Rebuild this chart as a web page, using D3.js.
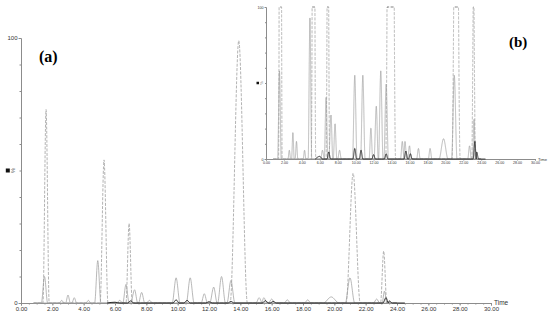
<!DOCTYPE html>
<html>
<head>
<meta charset="utf-8">
<script src="https://cdn.jsdelivr.net/npm/d3@7"></script>
<style>
  body { margin: 0; background: #fff; }
  svg { display: block; }
  .axis path, .axis line { stroke: #8c8c8c; }
  .axis text { fill: #333; font-family: "Liberation Sans", Arial, sans-serif; }
</style>
</head>
<body>
<svg id="chart" width="550" height="316"></svg>
<script>
// traces: [time (min), intensity %]
const dashedTrace = [
  [0.8,0],[1.4,0],[1.6,73],[1.8,0],[5.05,0],[5.3,54],[5.55,0],[6.7,0],[6.9,30],[7.1,0],
  [13.35,0],[13.9,99],[14.45,0],[20.75,0],[21.2,49],[21.65,0],[22.95,0],[23.15,19.6],[23.35,0],[24,0]
];
const solidTraceA = [
  [0.8,0],[1.3,0],[1.5,10],[1.7,0],[2.85,0],[3.0,3],[3.15,0],[3.25,0],[3.4,2],[3.55,0],
  [4.7,0],[4.9,16],[5.1,0],[6.5,0],[6.7,7],[6.9,0],[7.5,0],[7.7,4],[7.9,0],
  [9.65,0],[9.9,9.5],[10.15,0],[10.55,0],[10.8,9.5],[11.05,0],[12.05,0],[12.3,6],[12.52,0],
  [12.55,0],[12.8,10],[13.05,0],[15.0,0],[15.2,2],[15.4,0],[15.8,0],[16.0,1.5],[16.2,0],
  [16.8,0],[17.0,1.2],[17.2,0],[18.1,0],[18.3,1.2],[18.5,0],[19.3,0],[19.8,2.3],[20.3,0],
  [20.7,0],[21.0,9.5],[21.3,0],[23.05,0],[23.2,4.5],[23.35,0],[24,0]
];
const solidTraceB = [
  [0.8,0],[2.45,0],[2.6,1],[2.75,0],[4.15,0],[4.3,1],[4.45,0],[6.1,0],[6.3,1],[6.5,0],
  [7.0,0],[7.25,5],[7.45,0],[8.0,0],[8.2,1],[8.4,0],[11.5,0],[11.7,3.5],[11.9,0],
  [13.15,0],[13.4,8.5],[13.65,0],[15.35,0],[15.5,2],[15.7,0],[22.5,0],[22.7,1.5],[22.9,0],[24,0]
];
const blackTrace = [
  [5.5,0],[6.0,0.3],[6.3,0],[6.8,0],[7.0,0.8],[7.2,0],[9.7,0],[9.9,1.2],[10.1,0],[10.4,0],
  [10.6,1],[10.8,0],[11.8,0],[12.0,0.5],[12.2,0],[13.2,0],[13.4,0.6],[13.6,0],[15.4,0],
  [15.6,0.9],[15.8,0],[15.9,0],[16.1,0.6],[16.3,0],[23.1,0],[23.3,2],[23.45,0],[23.5,0.8],[23.7,0],[24.5,0]
];
const timeTicks = d3.range(0, 31, 2);
const insetGain = 5.8;   // inset (b) is the same run, y magnified

const traces = [
  { data: solidTraceA, color: "#999", dash: null, width: 0.7 },
  { data: solidTraceB, color: "#999", dash: null, width: 0.7 },
  { data: dashedTrace, color: "#999", dash: "3,1.4", width: 0.75 },
  { data: blackTrace, color: "#1a1a1a", dash: null, width: 0.9 }
];

const svg = d3.select("#chart");

function drawPanel(opt) {
  const g = svg.append("g");
  const x = d3.scaleLinear().domain([0, 30]).range([opt.x0, opt.x1]);
  const y = d3.scaleLinear().domain([0, 100]).range([opt.y0, opt.y1]);

  // minor ticks
  g.append("g").attr("class", "axis").attr("transform", `translate(0,${opt.y0})`)
    .call(d3.axisBottom(x).tickValues(d3.range(0, 30.01, 0.5)).tickSize(opt.minor).tickFormat(""))
    .call(a => a.select(".domain").remove());
  g.append("g").attr("class", "axis").attr("transform", `translate(0,${opt.y0})`)
    .call(d3.axisBottom(x).tickValues(timeTicks).tickSize(opt.major).tickPadding(1).tickFormat(d3.format(".2f")))
    .call(a => a.selectAll("text").attr("fill", "#333").style("font-size", opt.font + "px"));
  g.append("g").attr("class", "axis").attr("transform", `translate(${opt.x0},0)`)
    .call(d3.axisLeft(y).tickValues(d3.range(0, 101, 10)).tickSize(opt.minor).tickFormat(""));
  g.append("g").attr("class", "axis").attr("transform", `translate(${opt.x0},0)`)
    .call(d3.axisLeft(y).tickValues([0, 100]).tickSize(opt.major).tickPadding(1))
    .call(a => a.select(".domain").remove())
    .call(a => a.selectAll("text").attr("fill", "#333").style("font-size", opt.font + "px"));

  g.append("text").attr("x", opt.x1 + 3).attr("y", opt.y0 + 1.5)
    .style("font-family", "Liberation Sans, Arial").style("font-size", (opt.font + 0.5) + "px")
    .attr("fill", "#333").text("Time");
  const ym = (opt.y0 + opt.y1) / 2;
  g.append("rect").attr("x", opt.x0 - opt.sq * 3.8).attr("y", ym - opt.sq / 2)
    .attr("width", opt.sq).attr("height", opt.sq).attr("fill", "#111");
  g.append("text").attr("transform", `translate(${opt.x0 - opt.sq * 1.4},${ym}) rotate(-90)`)
    .attr("text-anchor", "middle")
    .style("font-family", "Liberation Sans, Arial").style("font-size", opt.font + "px")
    .attr("fill", "#666").text("%");

  const line = d3.line().x(d => x(d[0])).y(d => y(d[1] * opt.gain)).curve(d3.curveMonotoneX);
  traces.forEach(t => {
    let d = line(t.data);
    if (opt.gain > 1) {
      // flatten the peaks that run off the top, like the instrument plot
      const tmp = g.append("path").attr("d", d);
      const node = tmp.node(), len = node.getTotalLength();
      const pts = [];
      for (let s = 0; s <= len; s += 0.4) {
        const p = node.getPointAtLength(s);
        pts.push([p.x, Math.max(p.y, opt.y1)]);
      }
      tmp.remove();
      d = d3.line()(pts);
    }
    g.append("path").attr("d", d).attr("fill", "none")
      .attr("stroke", t.color).attr("stroke-width", t.width)
      .attr("stroke-dasharray", t.dash);
  });

  g.append("text").attr("x", opt.lx).attr("y", opt.ly)
    .style("font-family", "Liberation Serif, Times New Roman, serif")
    .style("font-weight", "bold").style("font-size", opt.lsize + "px")
    .attr("fill", "#000").text(opt.label);
}

drawPanel({ x0: 21, x1: 491, y0: 303, y1: 38, gain: 1, font: 6, major: 2.5, minor: 1.5, sq: 4,
  label: "(a)", lx: 39, ly: 62, lsize: 16 });
drawPanel({ x0: 266, x1: 535, y0: 159, y1: 7, gain: insetGain, font: 3.6, major: 1.5, minor: 1, sq: 2.5,
  label: "(b)", lx: 509, ly: 47, lsize: 15 });
</script>
</body>
</html>
